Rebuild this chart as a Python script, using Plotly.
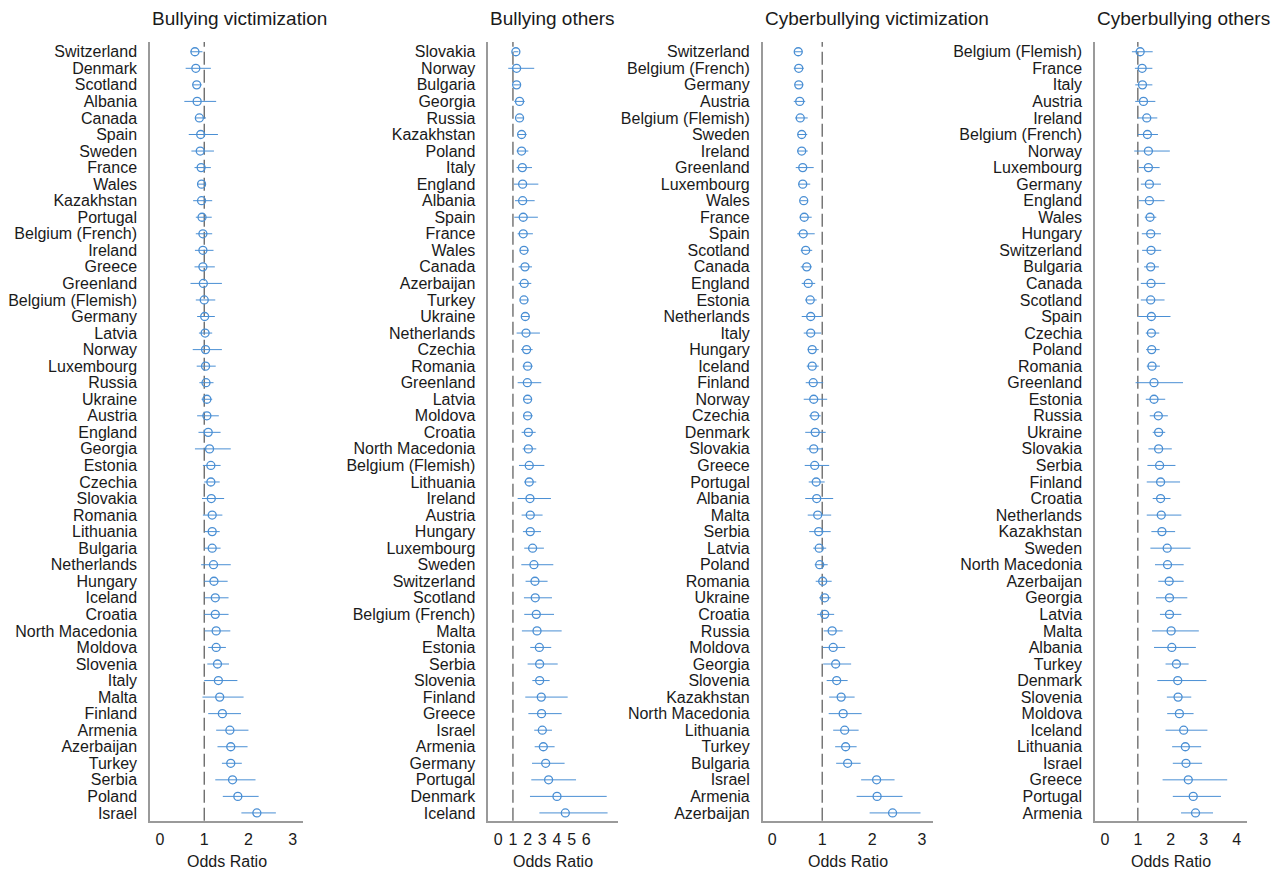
import plotly.graph_objects as go

# ---------------- Data ----------------
bv_countries = ["Switzerland", "Denmark", "Scotland", "Albania", "Canada", "Spain", "Sweden", "France",
                "Wales", "Kazakhstan", "Portugal", "Belgium (French)", "Ireland", "Greece", "Greenland",
                "Belgium (Flemish)", "Germany", "Latvia", "Norway", "Luxembourg", "Russia", "Ukraine",
                "Austria", "England", "Georgia", "Estonia", "Czechia", "Slovakia", "Romania", "Lithuania",
                "Bulgaria", "Netherlands", "Hungary", "Iceland", "Croatia", "North Macedonia", "Moldova",
                "Slovenia", "Italy", "Malta", "Finland", "Armenia", "Azerbaijan", "Turkey", "Serbia",
                "Poland", "Israel"]
bv_or = [0.79, 0.81, 0.83, 0.84, 0.89, 0.92, 0.91, 0.93, 0.94, 0.94, 0.95, 0.97, 0.97, 0.97, 0.98,
         1.00, 1.01, 1.02, 1.03, 1.03, 1.04, 1.06, 1.06, 1.09, 1.12, 1.15, 1.15, 1.16, 1.18, 1.18,
         1.18, 1.21, 1.22, 1.25, 1.25, 1.27, 1.27, 1.30, 1.32, 1.35, 1.41, 1.58, 1.60, 1.60, 1.64,
         1.76, 2.19]
bv_lo = [0.69, 0.58, 0.74, 0.55, 0.79, 0.65, 0.71, 0.78, 0.86, 0.75, 0.81, 0.81, 0.79, 0.78, 0.69,
         0.81, 0.84, 0.88, 0.74, 0.83, 0.89, 0.94, 0.84, 0.87, 0.79, 0.97, 1.00, 0.95, 0.97, 1.01,
         1.00, 0.93, 1.00, 1.01, 1.00, 1.01, 1.09, 1.07, 1.00, 0.96, 1.09, 1.27, 1.30, 1.40, 1.25,
         1.42, 1.84]
bv_hi = [0.96, 1.15, 0.94, 1.27, 1.04, 1.31, 1.22, 1.15, 1.04, 1.18, 1.17, 1.18, 1.21, 1.24, 1.40,
         1.25, 1.24, 1.18, 1.40, 1.26, 1.21, 1.18, 1.33, 1.37, 1.60, 1.37, 1.35, 1.45, 1.41, 1.35,
         1.37, 1.60, 1.53, 1.55, 1.55, 1.59, 1.49, 1.56, 1.75, 1.89, 1.83, 2.00, 1.98, 1.85, 2.16,
         2.23, 2.62]

bo_countries = ["Slovakia", "Norway", "Bulgaria", "Georgia", "Russia", "Kazakhstan", "Poland", "Italy",
                "England", "Albania", "Spain", "France", "Wales", "Canada", "Azerbaijan", "Turkey",
                "Ukraine", "Netherlands", "Czechia", "Romania", "Greenland", "Latvia", "Moldova", "Croatia",
                "North Macedonia", "Belgium (Flemish)", "Lithuania", "Ireland", "Austria", "Hungary",
                "Luxembourg", "Sweden", "Switzerland", "Scotland", "Belgium (French)", "Malta", "Estonia",
                "Serbia", "Slovenia", "Finland", "Greece", "Israel", "Armenia", "Germany", "Portugal",
                "Denmark", "Iceland"]
bo_or = [1.20, 1.25, 1.25, 1.45, 1.45, 1.59, 1.59, 1.64, 1.66, 1.66, 1.70, 1.70, 1.75, 1.82, 1.77,
         1.75, 1.84, 1.89, 1.93, 2.00, 1.98, 2.00, 2.00, 2.05, 2.05, 2.11, 2.11, 2.16, 2.18, 2.18,
         2.34, 2.43, 2.50, 2.52, 2.59, 2.64, 2.80, 2.82, 2.82, 2.93, 2.95, 3.00, 3.07, 3.23, 3.43,
         4.00, 4.57]
bo_lo = [1.05, 0.68, 1.02, 1.09, 1.25, 1.30, 1.25, 1.25, 1.07, 1.14, 1.09, 1.32, 1.48, 1.39, 1.39,
         1.48, 1.55, 1.25, 1.55, 1.66, 1.32, 1.70, 1.70, 1.59, 1.66, 1.41, 1.77, 1.32, 1.59, 1.68,
         1.77, 1.57, 1.86, 1.75, 1.77, 1.61, 2.18, 2.00, 2.32, 1.84, 2.05, 2.45, 2.48, 2.30, 2.25,
         2.16, 2.80]
bo_hi = [1.37, 2.45, 1.48, 1.80, 1.70, 1.93, 2.05, 2.30, 2.73, 2.48, 2.70, 2.36, 2.07, 2.30, 2.25,
         2.05, 2.11, 2.84, 2.34, 2.34, 2.93, 2.30, 2.34, 2.55, 2.59, 3.14, 2.59, 3.59, 3.02, 2.91,
         3.11, 3.75, 3.36, 3.66, 3.80, 4.32, 3.61, 4.05, 3.50, 4.73, 4.32, 3.66, 3.84, 4.52, 5.30,
         7.39, 7.45]

cv_countries = ["Switzerland", "Belgium (French)", "Germany", "Austria", "Belgium (Flemish)", "Sweden",
                "Ireland", "Greenland", "Luxembourg", "Wales", "France", "Spain", "Scotland", "Canada",
                "England", "Estonia", "Netherlands", "Italy", "Hungary", "Iceland", "Finland", "Norway",
                "Czechia", "Denmark", "Slovakia", "Greece", "Portugal", "Albania", "Malta", "Serbia",
                "Latvia", "Poland", "Romania", "Ukraine", "Croatia", "Russia", "Moldova", "Georgia",
                "Slovenia", "Kazakhstan", "North Macedonia", "Lithuania", "Turkey", "Bulgaria", "Israel",
                "Armenia", "Azerbaijan"]
cv_or = [0.52, 0.53, 0.53, 0.55, 0.56, 0.59, 0.59, 0.61, 0.61, 0.63, 0.64, 0.62, 0.67, 0.69, 0.72,
         0.76, 0.77, 0.77, 0.80, 0.80, 0.82, 0.83, 0.85, 0.86, 0.83, 0.85, 0.88, 0.89, 0.91, 0.93,
         0.94, 0.95, 1.01, 1.05, 1.05, 1.20, 1.22, 1.27, 1.29, 1.38, 1.42, 1.45, 1.47, 1.51, 2.09,
         2.10, 2.41]
cv_lo = [0.44, 0.43, 0.45, 0.43, 0.46, 0.51, 0.50, 0.47, 0.52, 0.56, 0.55, 0.50, 0.57, 0.57, 0.59,
         0.66, 0.59, 0.63, 0.71, 0.69, 0.67, 0.63, 0.74, 0.66, 0.69, 0.65, 0.73, 0.66, 0.71, 0.74,
         0.82, 0.85, 0.87, 0.94, 0.90, 1.03, 1.01, 1.02, 1.09, 1.14, 1.13, 1.22, 1.26, 1.28, 1.78,
         1.69, 1.95]
cv_hi = [0.60, 0.63, 0.62, 0.66, 0.71, 0.70, 0.71, 0.83, 0.76, 0.70, 0.79, 0.85, 0.80, 0.79, 0.86,
         0.89, 0.99, 0.98, 0.93, 0.93, 1.02, 1.10, 0.97, 1.07, 1.01, 1.14, 1.05, 1.22, 1.18, 1.17,
         1.08, 1.11, 1.19, 1.17, 1.24, 1.41, 1.46, 1.58, 1.51, 1.65, 1.79, 1.73, 1.69, 1.77, 2.45,
         2.61, 2.97]

co_countries = ["Belgium (Flemish)", "France", "Italy", "Austria", "Ireland", "Belgium (French)", "Norway",
                "Luxembourg", "Germany", "England", "Wales", "Hungary", "Switzerland", "Bulgaria", "Canada",
                "Scotland", "Spain", "Czechia", "Poland", "Romania", "Greenland", "Estonia", "Russia",
                "Ukraine", "Slovakia", "Serbia", "Finland", "Croatia", "Netherlands", "Kazakhstan", "Sweden",
                "North Macedonia", "Azerbaijan", "Georgia", "Latvia", "Malta", "Albania", "Turkey",
                "Denmark", "Slovenia", "Moldova", "Iceland", "Lithuania", "Israel", "Greece", "Portugal",
                "Armenia"]
co_or = [1.07, 1.13, 1.14, 1.17, 1.27, 1.29, 1.32, 1.32, 1.35, 1.35, 1.37, 1.39, 1.40, 1.39, 1.40,
         1.39, 1.41, 1.41, 1.42, 1.43, 1.49, 1.49, 1.62, 1.63, 1.63, 1.66, 1.69, 1.69, 1.71, 1.73,
         1.89, 1.90, 1.95, 1.96, 1.96, 2.01, 2.03, 2.17, 2.21, 2.22, 2.26, 2.39, 2.44, 2.46, 2.53,
         2.68, 2.75]
co_lo = [0.82, 0.91, 0.92, 0.92, 1.00, 1.00, 0.89, 1.03, 1.09, 1.03, 1.21, 1.12, 1.13, 1.19, 1.09,
         1.09, 1.01, 1.24, 1.25, 1.27, 0.93, 1.24, 1.36, 1.45, 1.32, 1.29, 1.27, 1.45, 1.27, 1.41,
         1.38, 1.52, 1.62, 1.55, 1.67, 1.43, 1.49, 1.84, 1.59, 1.88, 1.89, 1.84, 2.04, 2.06, 1.75,
         2.06, 2.31]
co_hi = [1.45, 1.44, 1.44, 1.53, 1.59, 1.61, 1.97, 1.66, 1.70, 1.81, 1.56, 1.70, 1.71, 1.64, 1.83,
         1.81, 1.99, 1.65, 1.66, 1.67, 2.37, 1.83, 1.91, 1.83, 2.03, 2.14, 2.28, 1.99, 2.32, 2.13,
         2.60, 2.39, 2.39, 2.50, 2.32, 2.85, 2.76, 2.54, 3.08, 2.62, 2.69, 3.11, 2.92, 2.95, 3.71,
         3.52, 3.28]

titles = ["Bullying victimization", "Bullying others", "Cyberbullying victimization", "Cyberbullying others"]
x_ticks = [[0, 1, 2, 3], [0, 1, 2, 3, 4, 5, 6], [0, 1, 2, 3], [0, 1, 2, 3, 4]]
x_title = "Odds Ratio"

# ---------------- Layout settings ----------------
W, H = 1287, 870
BLUE = "#4a8fd4"
FONT = "Liberation Sans, Arial, Helvetica, sans-serif"
panels = [
    (bv_countries, bv_or, bv_lo, bv_hi),
    (bo_countries, bo_or, bo_lo, bo_hi),
    (cv_countries, cv_or, cv_lo, cv_hi),
    (co_countries, co_or, co_lo, co_hi),
]
x_px = [(150, 303.3), (488.3, 618.3), (762.7, 932.7), (1095, 1247.3)]
x_ranges = [[-0.226, 3.24], [-0.68, 8.18], [-0.192, 3.214], [-0.30, 4.32]]
y_dom = [(H - 820.7) / H, (H - 42) / H]

fig = go.Figure()
annotations = []
shapes = []
layout = dict(
    width=W, height=H,
    margin=dict(l=0, r=0, t=0, b=0),
    paper_bgcolor="white", plot_bgcolor="white",
    showlegend=False,
    font=dict(family=FONT, size=16, color="#1a1a1a"),
)

for i, (countries, orv, lo, hi) in enumerate(panels):
    n = i + 1
    xa = "x" if n == 1 else f"x{n}"
    ya = "y" if n == 1 else f"y{n}"
    plus = [h - o for h, o in zip(hi, orv)]
    minus = [o - l for o, l in zip(orv, lo)]
    fig.add_trace(go.Scatter(
        x=orv, y=countries, xaxis=xa, yaxis=ya, mode="markers",
        marker=dict(symbol="circle-open", size=8, color=BLUE, line=dict(width=1.3)),
        error_x=dict(type="data", symmetric=False, array=plus, arrayminus=minus,
                     width=0, thickness=1, color=BLUE),
        hoverinfo="skip",
    ))
    dom = [x_px[i][0] / W, x_px[i][1] / W]
    layout["xaxis" if n == 1 else f"xaxis{n}"] = dict(
        domain=dom, range=x_ranges[i], anchor=ya,
        tickmode="array", tickvals=x_ticks[i], ticktext=[str(t) for t in x_ticks[i]],
        showline=True, linecolor="#9a9a9a", linewidth=1.5,
        showgrid=False, zeroline=False, ticks="", ticklabelstandoff=3,
        tickfont=dict(size=16, family=FONT, color="#1a1a1a"),
    )
    layout["yaxis" if n == 1 else f"yaxis{n}"] = dict(
        domain=y_dom, anchor=xa, type="category",
        categoryorder="array", categoryarray=countries,
        tickmode="array", tickvals=countries, ticktext=countries,
        range=[len(countries) - 1 + 0.47, -0.59],
        showline=True, linecolor="#9a9a9a", linewidth=1.5,
        showgrid=False, zeroline=False, ticks="", ticklabelstandoff=8,
        tickfont=dict(size=16, family=FONT, color="#1a1a1a"),
    )
    shapes.append(dict(type="line", xref=xa, yref=f"{ya} domain", x0=1, x1=1, y0=0, y1=1,
                       line=dict(color="#555555", width=1.2, dash="13px,5px"), layer="below"))
    annotations.append(dict(text=titles[i], xref="paper", yref="paper", x=dom[0], y=(H - 18) / H,
                            xanchor="left", yanchor="middle", showarrow=False,
                            font=dict(size=19, family=FONT, color="#1a1a1a")))
    annotations.append(dict(text=x_title, xref="paper", yref="paper", x=(dom[0] + dom[1]) / 2,
                            y=(H - 861) / H, xanchor="center", yanchor="middle", showarrow=False,
                            font=dict(size=16, family=FONT, color="#1a1a1a")))

layout["annotations"] = annotations
layout["shapes"] = shapes
fig.update_layout(**layout)
fig.write_html("out.html",
               config={"displayModeBar": False},
               post_script="document.body.style.margin='0px';document.body.style.overflow='hidden';")
